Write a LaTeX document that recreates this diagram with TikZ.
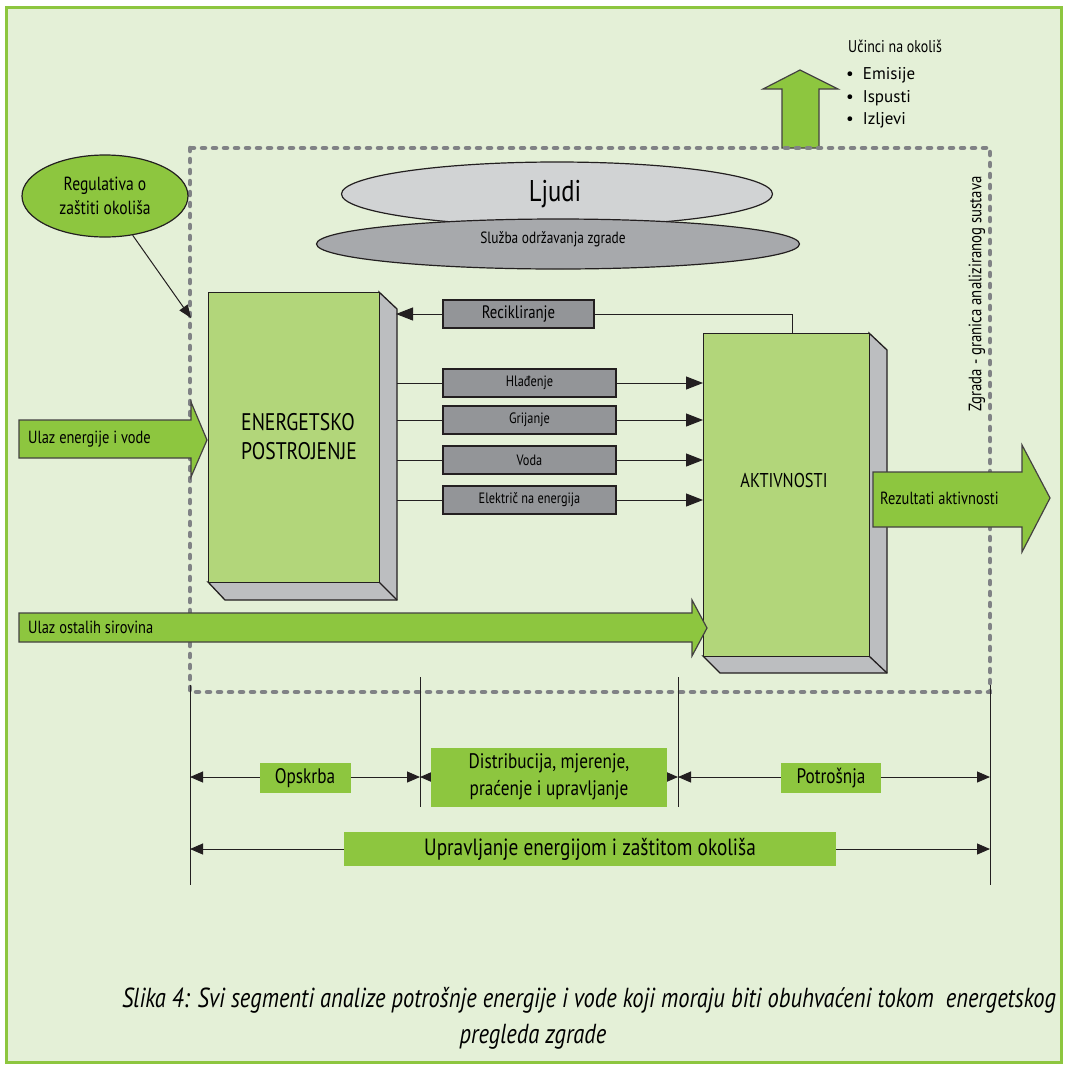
\documentclass[tikz,border=0pt]{standalone}
\usepackage{fontspec}
\setmainfont{PT Sans}[FakeStretch=0.82]
\newfontfamily\plainsans{PT Sans}
\usetikzlibrary{arrows.meta,shapes.geometric}
\definecolor{bg}{HTML}{E4F0D7}
\definecolor{framec}{HTML}{8DC63F}
\definecolor{agreen}{HTML}{8DC63F}
\definecolor{boxgreen}{HTML}{B2D67A}
\definecolor{sidec}{HTML}{BCBEC0}
\definecolor{smallgray}{HTML}{939598}
\definecolor{lgray}{HTML}{D1D3D4}
\definecolor{dgray}{HTML}{A7A9AC}
\definecolor{dashc}{HTML}{808285}
\definecolor{ink}{HTML}{231F20}
\newcommand\fsz[1]{\fontsize{#1}{#1}\selectfont}
\begin{document}
\begin{tikzpicture}[x=1pt,y=-1pt,
  blockarrow/.style={fill=agreen, draw=ink!85, line width=1.2pt},
  front/.style={fill=boxgreen, draw=ink, line width=1.3pt, inner sep=0pt, anchor=north west},
  sideface/.style={fill=sidec, draw=ink, line width=1.3pt, line join=miter},
  flowbox/.style={draw=ink, fill=smallgray, line width=1.3pt, minimum width=173pt, minimum height=28pt, inner sep=0pt, font=\fsz{15}},
  flow/.style={draw=ink, line width=1pt},
  flowarrow/.style={flow, -{Triangle[length=17pt,width=13pt]}},
  lab/.style={fill=agreen, inner sep=0pt, align=center},
  dim/.style={draw=ink, line width=1pt, {Triangle[length=13pt,width=11pt]}-{Triangle[length=13pt,width=11pt]}},
  tick/.style={draw=ink, line width=0.9pt},
  boundary/.style={draw=dashc, line width=4.5pt, line cap=round, dash pattern=on 3pt off 8pt},
  txt/.style={inner sep=0pt}
]
\useasboundingbox (0,0) rectangle (1067,1066);
\fill[white] (0,0) rectangle (1067,1066);
\filldraw[fill=bg, draw=framec, line width=3pt] (6,7) rectangle (1061,1062);

% up arrow (environmental effects)
\filldraw[blockarrow] (782,148) -- (782,89) -- (763,89) -- (800,70) -- (838,89) -- (819,89) -- (819,148) -- cycle;
\node[txt, anchor=west, font=\fsz{17}] (ucinci) at (848,46) {Učinci na okoliš};
\node[txt, anchor=west, font=\fsz{17}\plainsans] (em) at (846,75) {\textbullet\hspace{9pt}Emisije};
\node[txt, anchor=west, font=\fsz{17}\plainsans] (is) at (846,98) {\textbullet\hspace{9pt}Ispusti};
\node[txt, anchor=west, font=\fsz{17}\plainsans] (iz) at (846,120) {\textbullet\hspace{9pt}Izljevi};

% people ellipses
\node[ellipse, draw=ink, line width=1.2pt, fill=lgray, minimum width=431pt, minimum height=64pt, inner sep=0pt] (ljudi) at (557,194) {};
\node[txt, font=\fsz{30}] (ljuditxt) at (555,194) {Ljudi};
\node[ellipse, draw=ink, line width=1.2pt, fill=dgray, minimum width=483pt, minimum height=50pt, inner sep=0pt] (sluzba) at (558,244) {};
\node[txt, font=\fsz{16.3}] (sluzbatxt) at (553,239) {Služba održavanja zgrade};

% boundary
\draw[boundary] (190,148) rectangle (990,692);
\node[txt, rotate=90, font=\fsz{18}] (zgrada) at (977,294) {Zgrada - granica analiziranog sustava};

% regulation ellipse
\node[ellipse, draw=ink, line width=1.2pt, fill=agreen, minimum width=166pt, minimum height=82pt, inner sep=0pt, align=center, font=\fsz{19}] (reg) at (105,196) {Regulativa o\\[5pt]zaštiti okoliša};
\coordinate (regtip) at (191,318);
\draw[flow, -{Triangle[length=13pt,width=10pt]}] (reg) -- (regtip);

% energy plant box
\filldraw[sideface] (208,582) -- (379,582) -- (379,292) -- (397,309) -- (397,600) -- (225,600) -- cycle;
\draw[sideface] (379,582) -- (397,600);
\node[front, minimum width=171pt, minimum height=290pt] (ep) at (208,292) {};
\node[txt, anchor=west, align=left, font=\fsz{24}] (eptxt) at (241,437) {ENERGETSKO\\[5pt]POSTROJENJE};

% activities box
\filldraw[sideface] (703,656) -- (869,656) -- (869,333) -- (887,350) -- (887,673) -- (720,673) -- cycle;
\draw[sideface] (869,656) -- (887,673);
\node[front, minimum width=166pt, minimum height=323pt] (ak) at (703,333) {};
\node[txt, font=\fsz{20}] (aktxt) at (784,480) {AKTIVNOSTI};

% flow boxes
\node[flowbox, minimum width=151pt, font=\fsz{18}] (rec) at (518.5,314) {Recikliranje};
\node[flowbox] (hl) at (529.5,383) {Hlađenje};
\node[flowbox] (gr) at (529.5,420) {Grijanje};
\node[flowbox] (vo) at (529.5,460) {Voda};
\node[flowbox] (el) at (529.5,500) {Električ na energija};

\coordinate (s1) at (397,383);
\coordinate (s2) at (397,420);
\coordinate (s3) at (397,460);
\coordinate (s4) at (397,500);
\coordinate (srec) at (396,314);
\coordinate (rc) at (792,333);
\draw[flow] (s1) -- (hl.west);
\draw[flow] (s2) -- (gr.west);
\draw[flow] (s3) -- (vo.west);
\draw[flow] (s4) -- (el.west);
\draw[flowarrow] (hl.east) -- (hl.east -| ak.west);
\draw[flowarrow] (gr.east) -- (gr.east -| ak.west);
\draw[flowarrow] (vo.east) -- (vo.east -| ak.west);
\draw[flowarrow] (el.east) -- (el.east -| ak.west);
\draw[flow] (rc) |- (rec.east);
\draw[flowarrow] (rec.west) -- (srec);

% input arrows
\filldraw[blockarrow] (19,420) -- (191,420) -- (191,402) -- (207,440) -- (191,477) -- (191,458) -- (19,458) -- cycle;
\node[txt, anchor=west, font=\fsz{17.6}] (ulaz1) at (28,439) {Ulaz energije i vode};
\filldraw[blockarrow] (19,613) -- (692,613) -- (692,600) -- (707,628) -- (692,656) -- (692,642) -- (19,642) -- cycle;
\node[txt, anchor=west, font=\fsz{17.6}] (ulaz2) at (28,627) {Ulaz ostalih sirovina};
\filldraw[blockarrow] (873,472) -- (1022,472) -- (1022,445) -- (1050,498) -- (1022,552) -- (1022,527) -- (873,527) -- cycle;
\node[txt, anchor=west, font=\fsz{17.6}] (rez) at (880,498) {Rezultati aktivnosti};

% dimension lines
\draw[tick] (190,685) -- (190,885);
\draw[tick] (420,677) -- (420,807);
\draw[tick] (678,677) -- (678,807);
\draw[tick] (990,685) -- (990,885);
\coordinate (a1) at (190,777);
\coordinate (a2) at (420,777);
\coordinate (a3) at (678,777);
\coordinate (a4) at (990,777);
\coordinate (b1) at (190,849);
\coordinate (b2) at (990,849);
\draw[dim] (a1) -- (a2);
\draw[dim] (a2) -- (a3);
\draw[dim] (a3) -- (a4);
\draw[dim] (b1) -- (b2);
\node[lab, minimum width=91pt, minimum height=30pt, font=\fsz{21}] (opskrba) at (305,778) {Opskrba};
\node[lab, minimum width=236pt, minimum height=59pt, font=\fsz{21}] (distr) at (549,777) {Distribucija, mjerenje,\\[6pt]praćenje i upravljanje};
\node[lab, minimum width=100pt, minimum height=30pt, font=\fsz{21}] (potr) at (831,778) {Potrošnja};
\node[lab, minimum width=492pt, minimum height=34pt, font=\fsz{23.5}] (uprav) at (590,849) {Upravljanje energijom i zaštitom okoliša};

% caption
\node[txt, font=\fsz{27.5}\itshape] (cap1) at (589,1000) {Slika 4: Svi segmenti analize potrošnje energije i vode koji moraju biti obuhvaćeni tokom\ \ energetskog};
\node[txt, font=\fsz{27.5}\itshape] (cap2) at (533,1037) {pregleda zgrade};
\end{tikzpicture}
\end{document}
